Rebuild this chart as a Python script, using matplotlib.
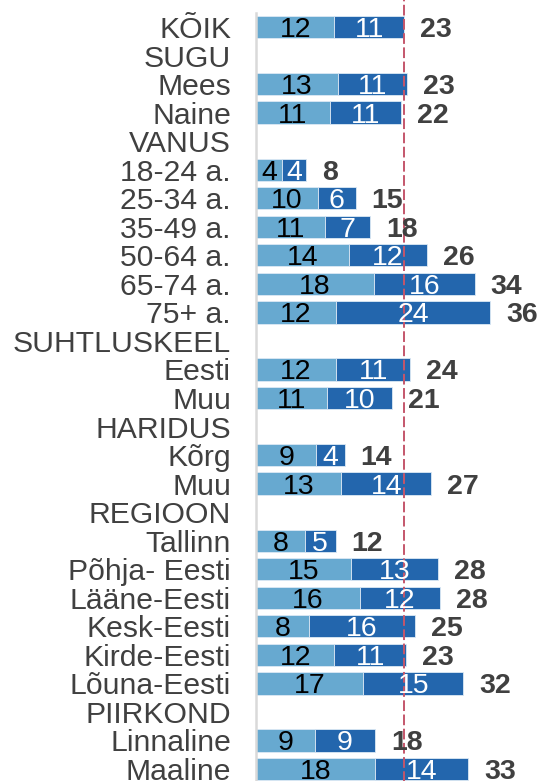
import matplotlib
matplotlib.use("Agg")
import matplotlib.pyplot as plt
import numpy as np

plt.rcParams['font.family'] = ['Liberation Sans', 'DejaVu Sans']

# Row labels (None values mark group header rows without bars)
labels = ["KÕIK", "SUGU", "Mees", "Naine", "VANUS", "18-24 a.", "25-34 a.",
          "35-49 a.", "50-64 a.", "65-74 a.", "75+ a.", "SUHTLUSKEEL", "Eesti",
          "Muu", "HARIDUS", "Kõrg", "Muu", "REGIOON", "Tallinn", "Põhja- Eesti",
          "Lääne-Eesti", "Kesk-Eesti", "Kirde-Eesti", "Lõuna-Eesti", "PIIRKOND",
          "Linnaline", "Maaline"]

series1 = [12.1, None, 12.7, 11.4, None, 4.0, 9.6, 10.7, 14.3, 18.2, 12.4, None,
           12.4, 10.9, None, 9.3, 13.2, None, 7.5, 14.7, 16.0, 8.2, 12.1, 16.6,
           None, 9.1, 18.4]
series2 = [10.8, None, 10.6, 11.0, None, 3.8, 5.8, 6.9, 12.1, 15.6, 23.8, None,
           11.4, 10.1, None, 4.4, 13.9, None, 4.8, 13.4, 12.4, 16.4, 11.1, 15.4,
           None, 9.3, 14.4]
labels1 = [12, None, 13, 11, None, 4, 10, 11, 14, 18, 12, None, 12, 11, None,
           9, 13, None, 8, 15, 16, 8, 12, 17, None, 9, 18]
labels2 = [11, None, 11, 11, None, 4, 6, 7, 12, 16, 24, None, 11, 10, None,
           4, 14, None, 5, 13, 12, 16, 11, 15, None, 9, 14]
totals = [23, None, 23, 22, None, 8, 15, 18, 26, 34, 36, None, 24, 21, None,
          14, 27, None, 12, 28, 28, 25, 23, 32, None, 18, 33]

c_light = "#67A9D0"
c_dark = "#2366AD"
txt = "#404040"

W, H = 542, 781
fig = plt.figure(figsize=(W / 100, H / 100), dpi=100)
top_px, bot_px = 12.7, 783.3
ax = fig.add_axes([256 / W, 1 - bot_px / H, 1 - 256 / W, (bot_px - top_px) / H])

n = len(labels)
y = np.arange(n)
for i in range(n):
    if series1[i] is None:
        continue
    ax.barh(y[i], series1[i], height=0.78, color=c_light, edgecolor="#DCE9F5",
            linewidth=0.6)
    ax.barh(y[i], series2[i], left=series1[i], height=0.78, color=c_dark,
            edgecolor="#DCE9F5", linewidth=0.6)
    ax.text(series1[i] / 2, y[i], str(labels1[i]), ha="center", va="center_baseline",
            fontsize=20.5, color="black")
    ax.text(series1[i] + series2[i] / 2, y[i], str(labels2[i]), ha="center",
            va="center_baseline", fontsize=20.5, color="white")
    ax.annotate(str(totals[i]), (series1[i] + series2[i], y[i]),
                xytext=(11.5, 0), textcoords="offset points", ha="left",
                va="center_baseline", fontsize=20.5, fontweight="bold", color=txt)

ref = series1[0] + series2[0]
ax.axvline(ref, ymin=-0.01, ymax=1.02, color="#C4566B", linestyle=(0, (5.5, 1.8)),
           linewidth=1.4, clip_on=False)

ax.set_xlim(0, 44.2)
ax.set_ylim(n - 0.5, -0.5)
ax.set_yticks(y)
ax.set_yticklabels(labels, fontsize=21.7, color=txt)
ax.tick_params(axis="y", length=0, pad=18)
ax.set_xticks([])
for s in ["top", "right", "bottom"]:
    ax.spines[s].set_visible(False)
ax.spines["left"].set_color("#D9D9D9")
ax.spines["left"].set_linewidth(1.8)

fig.savefig("out.png", dpi=100)
